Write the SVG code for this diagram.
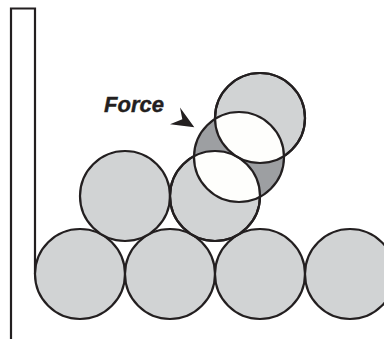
<svg xmlns="http://www.w3.org/2000/svg" width="384" height="339" viewBox="0 0 384 339">
  <style>
    .ball { fill: #d1d3d4; stroke: #231f20; stroke-width: 2.2; }
    .line { fill: none; stroke: #231f20; stroke-width: 2.2; }
    .label { font-family: "Liberation Sans", Arial, sans-serif; font-weight: bold; font-style: italic; font-size: 22px; fill: #231f20; stroke: #231f20; stroke-width: 0.4; }
  </style>
  <defs>
    <clipPath id="clipB"><circle cx="239" cy="157" r="45"/></clipPath>
  </defs>
  <rect width="384" height="339" fill="#ffffff"/>
  <g id="wall">
    <path class="line" d="M11,339 V8.5 H35 V274"/>
  </g>
  <g id="bottom-row">
    <circle class="ball" cx="80" cy="274" r="45"/>
    <circle class="ball" cx="170" cy="274" r="45"/>
    <circle class="ball" cx="260" cy="274" r="45"/>
    <circle class="ball" cx="350" cy="274" r="45"/>
  </g>
  <g id="second-row">
    <circle class="ball" cx="125" cy="196" r="45"/>
    <circle class="ball" cx="215" cy="196" r="45"/>
  </g>
  <g id="top-ball">
    <circle class="ball" cx="260" cy="118" r="45"/>
  </g>
  <g id="pushed-ball">
    <circle cx="239" cy="157" r="45" fill="#9d9fa2"/>
    <g clip-path="url(#clipB)">
      <circle cx="215" cy="196" r="45" fill="#fefefc"/>
      <circle cx="260" cy="118" r="45" fill="#fefefc"/>
    </g>
    <circle class="line" cx="215" cy="196" r="45"/>
    <circle class="line" cx="260" cy="118" r="45"/>
    <circle class="line" cx="239" cy="157" r="45"/>
  </g>
  <g id="force-label">
    <text class="label" x="104" y="112">Force</text>
  </g>
  <g id="connectors">
    <polygon points="194.3,127.3 180,107.5 182.3,119.3 170,124.3" fill="#231f20"/>
  </g>
</svg>
